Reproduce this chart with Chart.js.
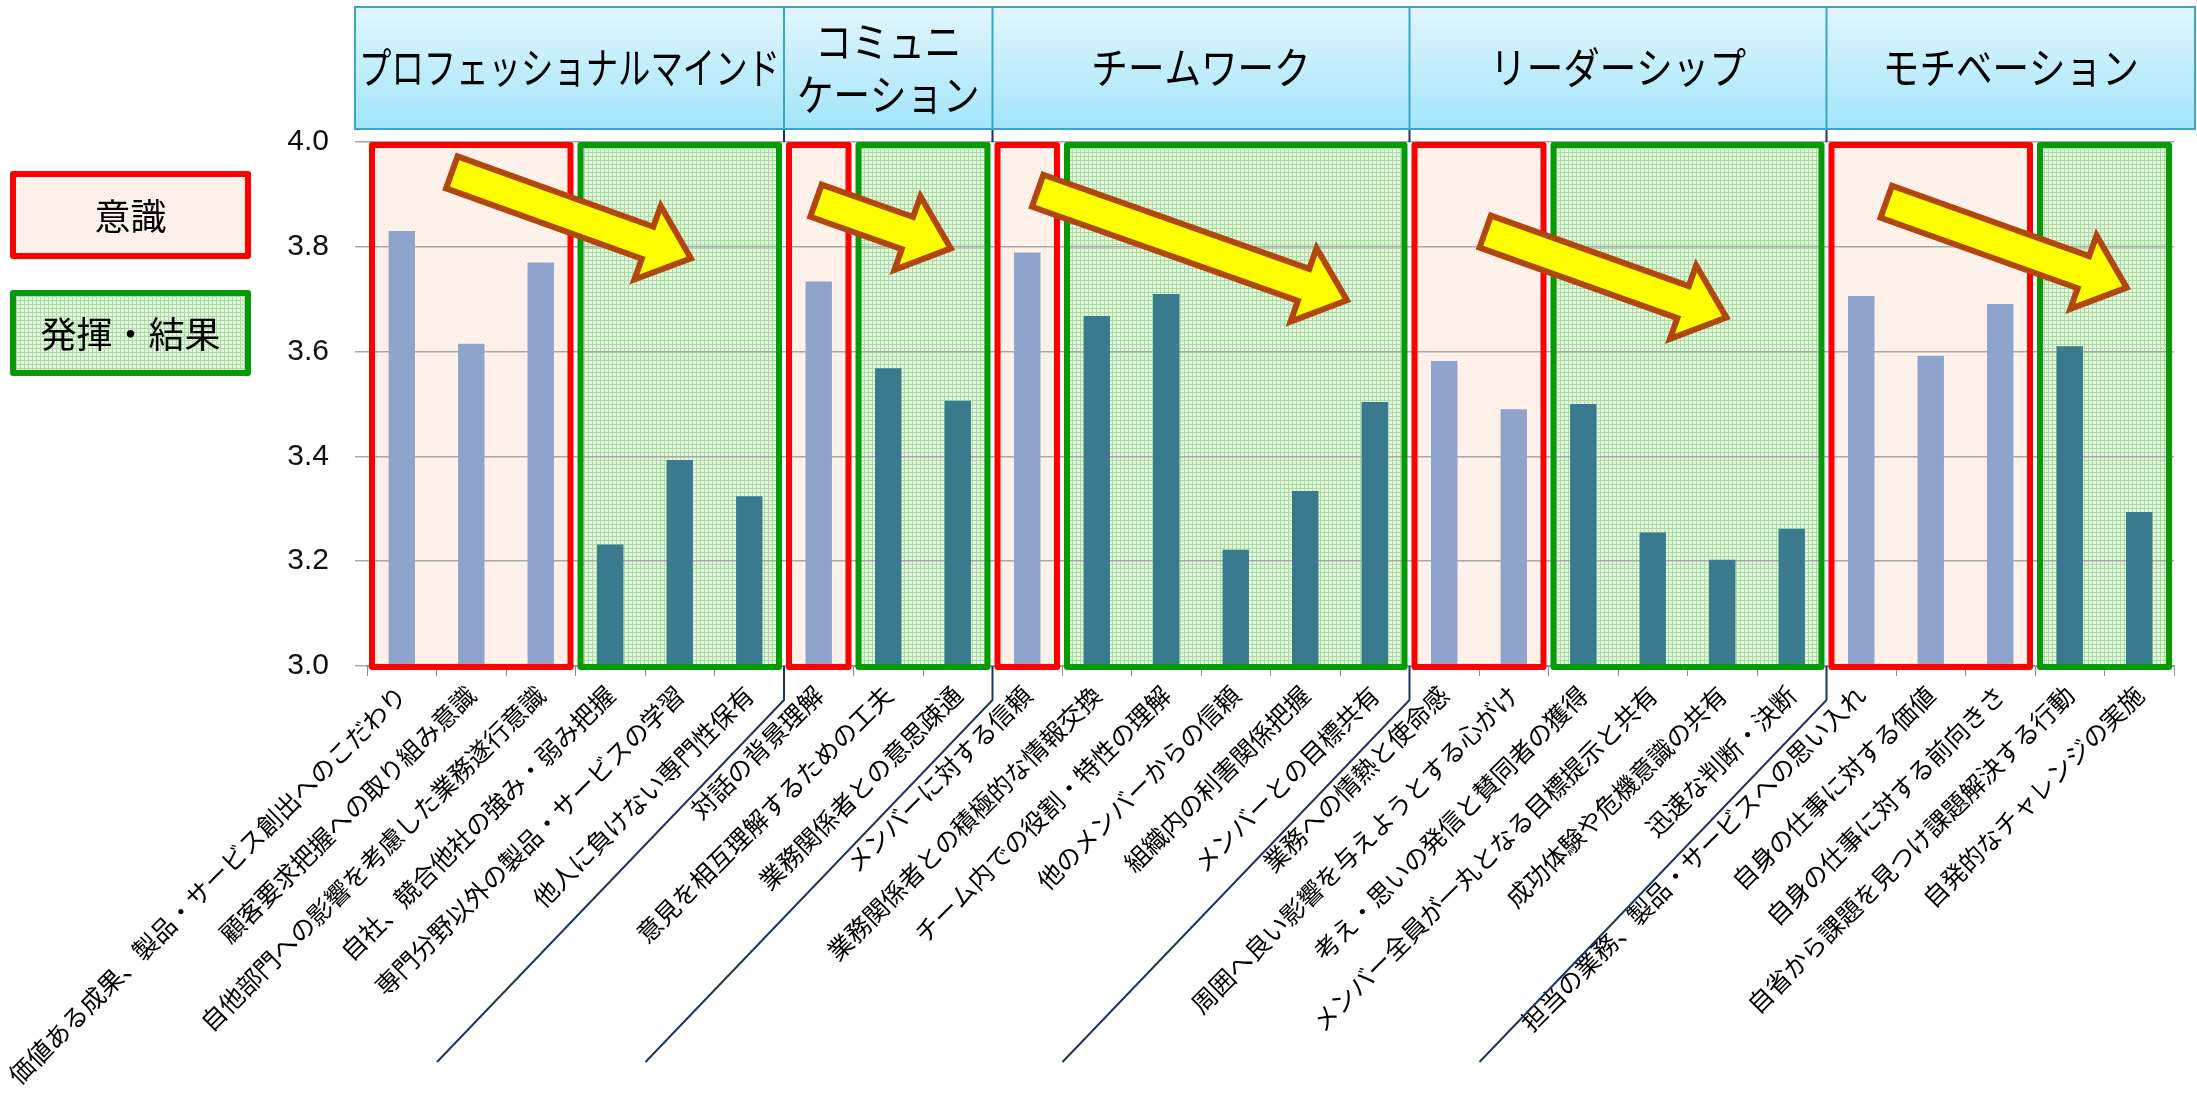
<!DOCTYPE html>
<html>
<head>
<meta charset="utf-8">
<script src="https://cdn.jsdelivr.net/npm/chart.js@4.4.0/dist/chart.umd.min.js"></script>
<style>
  html, body { margin: 0; padding: 0; background: #fff; }
</style>
</head>
<body>
<canvas id="myChart" width="2197" height="1106"></canvas>
<script>
// --- data ---
var labels = [
  "価値ある成果、製品・サービス創出へのこだわり",
  "顧客要求把握への取り組み意識",
  "自他部門への影響を考慮した業務遂行意識",
  "自社、競合他社の強み・弱み把握",
  "専門分野以外の製品・サービスの学習",
  "他人に負けない専門性保有",
  "対話の背景理解",
  "意見を相互理解するための工夫",
  "業務関係者との意思疎通",
  "メンバーに対する信頼",
  "業務関係者との積極的な情報交換",
  "チーム内での役割・特性の理解",
  "他のメンバーからの信頼",
  "組織内の利害関係把握",
  "メンバーとの目標共有",
  "業務への情熱と使命感",
  "周囲へ良い影響を与えようとする心がけ",
  "考え・思いの発信と賛同者の獲得",
  "メンバー全員が一丸となる目標提示と共有",
  "成功体験や危機意識の共有",
  "迅速な判断・決断",
  "担当の業務、製品・サービスへの思い入れ",
  "自身の仕事に対する価値",
  "自身の仕事に対する前向きさ",
  "自省から課題を見つけ課題解決する行動",
  "自発的なチャレンジの実施"
];
var scores = [3.83, 3.615, 3.77, 3.232, 3.393, 3.324,
              3.734, 3.568, 3.506,
              3.789, 3.668, 3.71, 3.222, 3.334, 3.504,
              3.582, 3.49, 3.50, 3.255, 3.203, 3.262,
              3.706, 3.592, 3.691, 3.61, 3.294];
// i = 意識, h = 発揮・結果
var kinds = ["i","i","i","h","h","h",
             "i","h","h",
             "i","h","h","h","h","h",
             "i","i","h","h","h","h",
             "i","i","i","h","h"];
var groupNames = ["プロフェッショナルマインド", "コミュニ\nケーション", "チームワーク", "リーダーシップ", "モチベーション"];
var groupSizes = [6, 3, 6, 6, 5];
var legendNames = ["意識", "発揮・結果"];
var yTicks = [3.0, 3.2, 3.4, 3.6, 3.8, 4.0];
// decorative arrows: [from index, from value, to index, to value]
var arrows = [
  [0.72, 3.942, 4.16, 3.778],
  [5.96, 3.888, 7.90, 3.797],
  [9.15, 3.907, 13.60, 3.698],
  [15.59, 3.829, 19.06, 3.665],
  [21.36, 3.886, 24.82, 3.722]
];

var colIshiki = "#8EA4CC";
var colHakki = "#3A7A8F";
var red = "#FF0000";
var green = "#079A07";

function makePattern(ctx, bg, fg, mode) {
  var c = document.createElement("canvas");
  c.width = 4; c.height = 4;
  var g = c.getContext("2d");
  g.fillStyle = bg; g.fillRect(0, 0, 4, 4);
  g.fillStyle = fg;
  if (mode === "grid") { g.fillRect(0, 0, 4, 1); g.fillRect(0, 0, 1, 4); }
  else { g.fillRect(0, 0, 1, 1); g.fillRect(2, 2, 1, 1); }
  return ctx.createPattern(c, "repeat");
}

function runs() {
  var out = [];
  var s = 0;
  for (var i = 1; i <= kinds.length; i++) {
    if (i === kinds.length || kinds[i] !== kinds[s]) {
      out.push({ start: s, end: i - 1, kind: kinds[s] });
      s = i;
    }
  }
  return out;
}

function edge(chart, i) {
  var x = chart.scales.x;
  var half = (x.getPixelForValue(1) - x.getPixelForValue(0)) / 2;
  return x.getPixelForValue(i) - half;
}

function boxRect(chart, r) {
  var y = chart.scales.y;
  return {
    x0: edge(chart, r.start) + 5,
    x1: edge(chart, r.end + 1) - 5,
    y0: y.getPixelForValue(yTicks[yTicks.length - 1]) + 3,
    y1: y.getPixelForValue(yTicks[0]) + 1
  };
}

// draws box fills below the grid
const boxFills = {
  id: "boxFills",
  beforeDraw(chart) {
    const ctx = chart.ctx;
    const pRed = makePattern(ctx, "#FEF3ED", "#FBE1D4", "dots");
    const pGreen = makePattern(ctx, "#E4F5E0", "#A8DCA1", "grid");
    ctx.save();
    runs().forEach(r => {
      const b = boxRect(chart, r);
      ctx.fillStyle = r.kind === "i" ? pRed : pGreen;
      ctx.fillRect(b.x0, b.y0, b.x1 - b.x0, b.y1 - b.y0);
    });
    ctx.restore();
  }
};

// borders, separators, arrows, header, legend
const overlay = {
  id: "overlay",
  afterDatasetsDraw(chart) {
    const ctx = chart.ctx;
    const area = chart.chartArea;
    ctx.save();
    // boxes
    ctx.lineWidth = 6;
    ctx.lineJoin = "round";
    runs().forEach(r => {
      const b = boxRect(chart, r);
      ctx.strokeStyle = r.kind === "i" ? red : green;
      ctx.strokeRect(b.x0, b.y0, b.x1 - b.x0, b.y1 - b.y0);
    });
    // group separators
    ctx.strokeStyle = "#1F3560";
    ctx.lineWidth = 2;
    let acc = 0;
    for (let g = 0; g < groupSizes.length - 1; g++) {
      acc += groupSizes[g];
      const ex = edge(chart, acc);
      ctx.beginPath();
      ctx.moveTo(ex, 129); ctx.lineTo(ex, area.top);
      ctx.moveTo(ex, area.bottom); ctx.lineTo(ex, 700);
      ctx.lineTo(ex - 347, 1062);
      ctx.stroke();
    }
    // arrows
    const x = chart.scales.x, y = chart.scales.y;
    arrows.forEach(a => {
      const tx = x.getPixelForValue(a[0]), ty = y.getPixelForValue(a[1]);
      const px = x.getPixelForValue(a[2]), py = y.getPixelForValue(a[3]);
      const len = Math.hypot(px - tx, py - ty);
      const ux = (px - tx) / len, uy = (py - ty) / len;
      const nx = -uy, ny = ux;
      const w = 17, hw = 39, hl = 46;
      const bx = px - ux * hl, by = py - uy * hl;
      ctx.beginPath();
      ctx.moveTo(tx + nx * w, ty + ny * w);
      ctx.lineTo(bx + nx * w, by + ny * w);
      ctx.lineTo(bx + nx * hw, by + ny * hw);
      ctx.lineTo(px, py);
      ctx.lineTo(bx - nx * hw, by - ny * hw);
      ctx.lineTo(bx - nx * w, by - ny * w);
      ctx.lineTo(tx - nx * w, ty - ny * w);
      ctx.closePath();
      ctx.fillStyle = "#FFFF00";
      ctx.fill();
      ctx.strokeStyle = "#B2470E";
      ctx.lineWidth = 6;
      ctx.lineJoin = "miter";
      ctx.stroke();
    });
    ctx.restore();
  },
  afterDraw(chart) {
    const ctx = chart.ctx;
    ctx.save();
    // header band
    const hx0 = chart.chartArea.left - 12, hx1 = 2195, hy0 = 7, hy1 = 129;
    const grad = ctx.createLinearGradient(0, hy0, 0, hy1);
    grad.addColorStop(0, "#E1F6FE");
    grad.addColorStop(1, "#A3E5FA");
    ctx.fillStyle = grad;
    ctx.fillRect(hx0, hy0, hx1 - hx0, hy1 - hy0);
    ctx.strokeStyle = "#3AA5C5";
    ctx.lineWidth = 2;
    ctx.strokeRect(hx0, hy0, hx1 - hx0, hy1 - hy0);
    let acc = 0;
    const cells = [];
    let prev = hx0;
    for (let g = 0; g < groupSizes.length; g++) {
      acc += groupSizes[g];
      const ex = g === groupSizes.length - 1 ? hx1 : edge(chart, acc);
      cells.push([prev, ex]);
      if (g < groupSizes.length - 1) {
        ctx.beginPath(); ctx.moveTo(ex, hy0); ctx.lineTo(ex, hy1); ctx.stroke();
      }
      prev = ex;
    }
    ctx.fillStyle = "#000";
    ctx.font = "43px 'Noto Sans CJK JP'";
    ctx.textAlign = "center";
    ctx.textBaseline = "middle";
    groupNames.forEach((name, g) => {
      const lines = name.split("\n");
      const cx = (cells[g][0] + cells[g][1]) / 2;
      const maxW = cells[g][1] - cells[g][0] - 8;
      lines.forEach((ln, k) => {
        const cy = lines.length === 1 ? 68 : 42 + k * 53;
        const wNat = ctx.measureText(ln).width;
        const sx = Math.min(0.85, maxW / wNat);
        ctx.save();
        ctx.translate(cx, cy);
        ctx.scale(sx, 1);
        ctx.fillText(ln, 0, 0);
        ctx.restore();
      });
    });
    // legend boxes
    const pRed = makePattern(ctx, "#FEF3ED", "#FBE1D4", "dots");
    const pGreen = makePattern(ctx, "#E4F5E0", "#A8DCA1", "grid");
    const lb = [[13, 174, 235, 82], [13, 293, 235, 80]];
    legendNames.forEach((name, k) => {
      const r = lb[k];
      ctx.fillStyle = k === 0 ? pRed : pGreen;
      ctx.fillRect(r[0], r[1], r[2], r[3]);
      ctx.lineWidth = 6;
      ctx.lineJoin = "round";
      ctx.strokeStyle = k === 0 ? red : green;
      ctx.strokeRect(r[0], r[1], r[2], r[3]);
      ctx.fillStyle = "#000";
      ctx.font = "36px 'Noto Sans CJK JP'";
      ctx.textAlign = "center";
      ctx.textBaseline = "middle";
      ctx.fillText(name, r[0] + r[2] / 2, r[1] + r[3] / 2 + 1);
    });
    ctx.restore();
  }
};

const chart = new Chart("myChart", {
  type: "bar",
  data: {
    labels: labels,
    datasets: [{
      data: scores,
      backgroundColor: kinds.map(k => k === "i" ? colIshiki : colHakki),
      borderWidth: 0,
      barPercentage: 0.38,
      categoryPercentage: 1
    }]
  },
  options: {
    responsive: false,
    animation: false,
    layout: { padding: { top: 142, right: 23, left: 0, bottom: 0 } },
    plugins: { legend: { display: false }, tooltip: { enabled: false } },
    scales: {
      x: {
        grid: { drawOnChartArea: false, tickLength: 10, color: "#8C8C8C", offset: true },
        border: { color: "#9A9A9A", width: 2 },
        ticks: {
          autoSkip: false, minRotation: 45, maxRotation: 45, padding: 4,
          color: "#000", font: { family: "'Noto Sans CJK JP'", size: 25 }
        },
        afterFit(scale) { scale.height = 440; scale.paddingLeft = 0; scale.paddingRight = 0; }
      },
      y: {
        min: yTicks[0], max: yTicks[yTicks.length - 1],
        grid: { color: "#A8A8A8", lineWidth: 1.5, tickLength: 12 },
        border: { display: false },
        ticks: {
          padding: 26, color: "#111",
          font: { family: "'Liberation Sans Narrow', 'Liberation Sans', sans-serif", size: 30 },
          callback: v => Number(v).toFixed(1)
        },
        afterBuildTicks(scale) { scale.ticks = yTicks.map(v => ({ value: v })); },
        afterFit(scale) { scale.width = 367; }
      }
    }
  },
  plugins: [boxFills, overlay]
});
</script>
</body>
</html>
